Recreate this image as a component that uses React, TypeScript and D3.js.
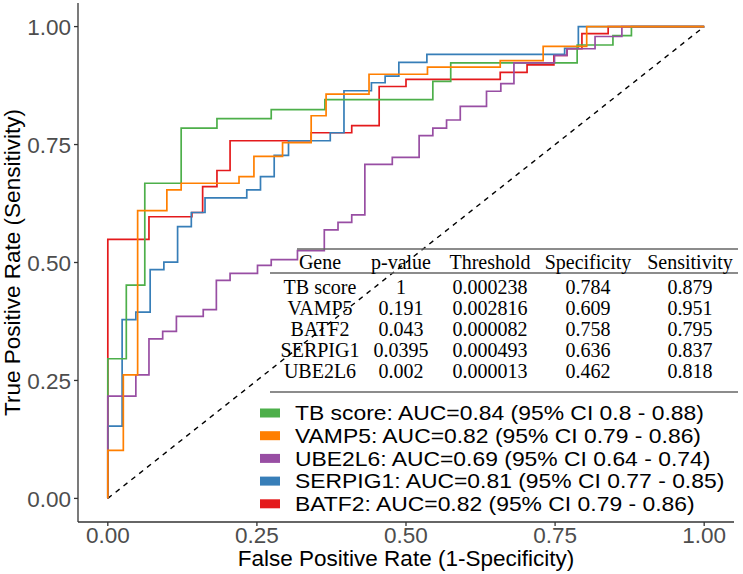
import React from "react";
import * as d3 from "d3";

// ---- Data ----
const legendNames = ["TB score", "VAMP5", "UBE2L6", "SERPIG1", "BATF2"];
const aucValues = [0.84, 0.82, 0.69, 0.81, 0.82];
const ciLow = [0.8, 0.79, 0.64, 0.77, 0.79];
const ciHigh = [0.88, 0.86, 0.74, 0.85, 0.86];
const drawOrder = ["BATF2", "SERPIG1", "TB score", "UBE2L6", "VAMP5"];

const tbFpr = [0, 0, 0.031, 0.062, 0.123, 0.183, 0.274, 0.364, 0.545, 0.575, 0.787, 0.847, 0.878, 1];
const tbTpr = [0, 0.296, 0.452, 0.668, 0.785, 0.805, 0.824, 0.845, 0.884, 0.923, 0.961, 0.981, 1, 1];

const vampFpr = [0, 0, 0.026, 0.05, 0.099, 0.123, 0.22, 0.245, 0.293, 0.341, 0.366, 0.438, 0.536, 0.658, 0.73, 0.803, 1];
const vampTpr = [0, 0.102, 0.262, 0.61, 0.654, 0.668, 0.682, 0.725, 0.754, 0.811, 0.857, 0.899, 0.914, 0.928, 0.958, 1, 1];

const ubeFpr = [0, 0, 0.047, 0.069, 0.092, 0.115, 0.16, 0.182, 0.205, 0.251, 0.274, 0.318, 0.363, 0.386, 0.409, 0.431, 0.477, 0.522, 0.545, 0.568, 0.591, 0.635, 0.659, 0.681, 0.749, 0.77, 0.817, 0.862, 1];
const ubeTpr = [0, 0.217, 0.262, 0.338, 0.354, 0.386, 0.4, 0.462, 0.477, 0.494, 0.506, 0.525, 0.569, 0.585, 0.601, 0.708, 0.723, 0.769, 0.785, 0.802, 0.831, 0.863, 0.879, 0.923, 0.939, 0.953, 0.979, 1, 1];

const serpFpr = [0, 0, 0.024, 0.047, 0.071, 0.094, 0.117, 0.14, 0.163, 0.233, 0.256, 0.279, 0.303, 0.373, 0.396, 0.442, 0.465, 0.488, 0.535, 0.766, 0.789, 1];
const serpTpr = [0, 0.153, 0.379, 0.395, 0.485, 0.501, 0.576, 0.606, 0.637, 0.654, 0.682, 0.727, 0.758, 0.775, 0.864, 0.881, 0.895, 0.924, 0.941, 0.954, 1, 1];

const batfFpr = [0, 0, 0.069, 0.141, 0.159, 0.183, 0.205, 0.341, 0.409, 0.455, 0.5, 0.658, 0.703, 0.748, 0.77, 0.795, 0.839, 1];
const batfTpr = [0, 0.549, 0.597, 0.606, 0.661, 0.695, 0.758, 0.775, 0.79, 0.873, 0.888, 0.903, 0.919, 0.939, 0.953, 0.985, 1, 1];

const xTicks = [0, 0.25, 0.5, 0.75, 1];
const yTicks = [0, 0.25, 0.5, 0.75, 1];

const tableHeader = ["Gene", "p-value", "Threshold", "Specificity", "Sensitivity"];
const tableGene = ["TB score", "VAMP5", "BATF2", "SERPIG1", "UBE2L6"];
const tablePValue = ["1", "0.191", "0.043", "0.0395", "0.002"];
const tableThreshold = ["0.000238", "0.002816", "0.000082", "0.000493", "0.000013"];
const tableSpecificity = ["0.784", "0.609", "0.758", "0.636", "0.462"];
const tableSensitivity = ["0.879", "0.951", "0.795", "0.837", "0.818"];

// ---- Styles ----
const colors: Record<string, string> = {
  "TB score": "#4DAF4A",
  VAMP5: "#FF7F00",
  UBE2L6: "#984EA3",
  SERPIG1: "#377EB8",
  BATF2: "#E41A1C",
};

const W = 743;
const H = 574;
const sans = "'Liberation Sans', Arial, sans-serif";
const serif = "'Liberation Serif', 'Times New Roman', serif";

export default function App() {
  const x = d3.scaleLinear().domain([-0.05, 1.05]).range([78, 734]);
  const y = d3.scaleLinear().domain([-0.05, 1.05]).range([522, 3]);

  const curves: Record<string, [number[], number[]]> = {
    "TB score": [tbFpr, tbTpr],
    VAMP5: [vampFpr, vampTpr],
    UBE2L6: [ubeFpr, ubeTpr],
    SERPIG1: [serpFpr, serpTpr],
    BATF2: [batfFpr, batfTpr],
  };

  const line = d3
    .line<[number, number]>()
    .x((d) => x(d[0]))
    .y((d) => y(d[1]))
    .curve(d3.curveStepAfter);

  const tableCols = [tableGene, tablePValue, tableThreshold, tableSpecificity, tableSensitivity];
  const colX = [320, 401, 490, 588, 690];
  const rowY = d3.range(tableGene.length).map((i) => 294 + i * 21);

  const legendY = d3.range(legendNames.length).map((i) => 413 + i * 22.7);

  return (
    <svg
      width={W}
      height={H}
      style={{ position: "absolute", left: 0, top: 0, display: "block", background: "#fff" }}
    >
      <rect x={0} y={0} width={W} height={H} fill="#fff" />
      {/* diagonal */}
      <line
        x1={x(0)}
        y1={y(0)}
        x2={x(1)}
        y2={y(1)}
        stroke="#000"
        strokeWidth={1.4}
        strokeDasharray="5,5"
      />
      {/* ROC curves */}
      {drawOrder.map((name) => {
        const [f, t] = curves[name];
        const pts = f.map((v, i) => [v, t[i]] as [number, number]);
        return (
          <path
            key={name}
            d={line(pts) || ""}
            fill="none"
            stroke={colors[name]}
            strokeWidth={1.7}
          />
        );
      })}

      {/* axes */}
      <line x1={78} y1={3} x2={78} y2={522} stroke="#333" strokeWidth={1.3} />
      <line x1={78} y1={522} x2={734} y2={522} stroke="#333" strokeWidth={1.3} />
      {yTicks.map((t) => (
        <g key={"y" + t}>
          <line x1={74} x2={78} y1={y(t)} y2={y(t)} stroke="#333" strokeWidth={1.3} />
          <text
            x={71}
            y={y(t)}
            dy="0.36em"
            textAnchor="end"
            fontFamily={sans}
            fontSize={22.5}
            fill="#4D4D4D"
          >
            {t.toFixed(2)}
          </text>
        </g>
      ))}
      {xTicks.map((t) => (
        <g key={"x" + t}>
          <line x1={x(t)} x2={x(t)} y1={522} y2={526} stroke="#333" strokeWidth={1.3} />
          <text
            x={x(t)}
            y={543}
            textAnchor="middle"
            fontFamily={sans}
            fontSize={22.5}
            fill="#4D4D4D"
          >
            {t.toFixed(2)}
          </text>
        </g>
      ))}
      <text x={406} y={566} textAnchor="middle" fontFamily={sans} fontSize={22.5} fill="#000">
        False Positive Rate (1-Specificity)
      </text>
      <text
        transform={`translate(20,${y(0.5)}) rotate(-90)`}
        textAnchor="middle"
        fontFamily={sans}
        fontSize={22.5}
        fill="#000"
      >
        True Positive Rate (Sensitivity)
      </text>

      {/* table */}
      <line x1={297} x2={738} y1={249} y2={249} stroke="#666" strokeWidth={1.3} />
      <line x1={270} x2={738} y1={273} y2={273} stroke="#666" strokeWidth={1.3} />
      <line x1={270} x2={738} y1={392} y2={392} stroke="#666" strokeWidth={1.3} />
      {tableHeader.map((h, j) => (
        <text
          key={"h" + j}
          x={colX[j]}
          y={269}
          textAnchor="middle"
          fontFamily={serif}
          fontSize={20}
          fill="#000"
        >
          {h}
        </text>
      ))}
      {tableCols.map((col, j) =>
        col.map((v, i) => (
          <text
            key={"c" + j + "_" + i}
            x={colX[j]}
            y={rowY[i]}
            textAnchor="middle"
            fontFamily={serif}
            fontSize={20}
            fill="#000"
          >
            {v}
          </text>
        ))
      )}

      {/* legend */}
      {legendNames.map((name, i) => (
        <g key={"lg" + name}>
          <rect x={260} y={legendY[i] - 4.5} width={20} height={9} fill={colors[name]} />
          <text
            transform={`translate(295,${legendY[i]}) scale(1.145,1)`}
            dy="0.36em"
            fontFamily={sans}
            fontSize={20}
            fill="#000"
          >
            {`${name}: AUC=${aucValues[i]} (95% CI ${ciLow[i]} - ${ciHigh[i]})`}
          </text>
        </g>
      ))}
    </svg>
  );
}
